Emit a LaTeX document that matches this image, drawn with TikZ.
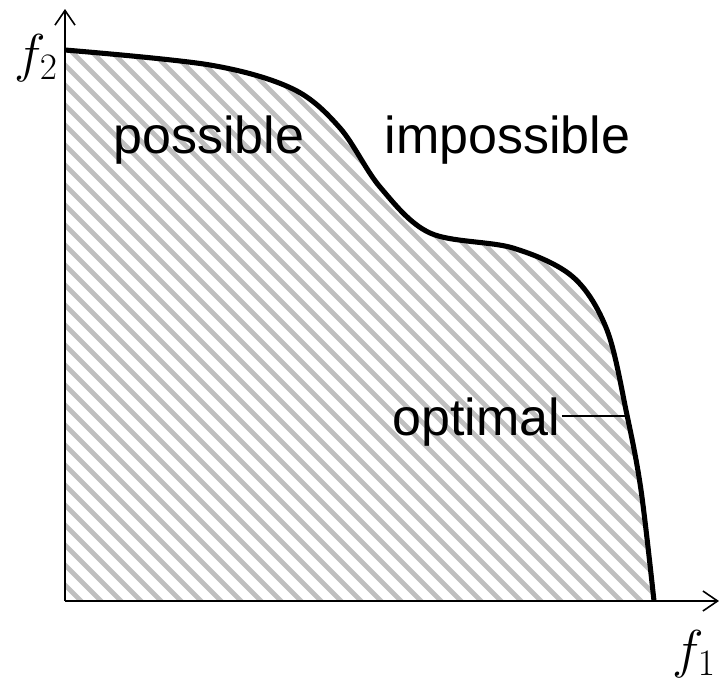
\RequirePackage{fix-cm}
\documentclass[tikz,border=0pt]{standalone}
\usepackage{fontspec}
\setsansfont{Liberation Sans}
\usepackage{tikz}
\usetikzlibrary{arrows.meta,positioning,calc}

\begin{document}
\begin{tikzpicture}[
        x=0.75pt, y=-0.75pt,
        axis/.style={line width=1.5pt, draw=black, -{Straight Barb[length=11pt,width=15pt,line width=1.2pt]}},
        front/.style={line width=3.8pt, draw=black},
        hatch/.style={line width=3.6pt, draw=black!25},
        lbl/.style={inner sep=1pt, font=\sffamily\fontsize{39}{40}\selectfont, text=black},
        axlbl/.style={inner sep=0pt, font=\fontsize{40}{42}\selectfont},
        pointer/.style={line width=1.5pt, draw=black}
    ]
        \useasboundingbox (0,0) rectangle (719,683);

        % Feasible region and its hatching
        \begin{scope}
            \clip (65,601) -- (65,50)
                -- plot[smooth, tension=0.55] coordinates {(65,50) (210,65) (293,89) (340,128) (380,187) (430,233) (513,248) (573,277) (607,330) (627,415) (641,490) (654,601)}
                -- cycle;
            \foreach \a in {-700,-680,...,720}
                \draw[hatch] (\a,0) -- ++(700,700);
        \end{scope}

        % Pareto front
        \draw[front] plot[smooth, tension=0.55] coordinates {(65,50) (210,65) (293,89) (340,128) (380,187) (430,233) (513,248) (573,277) (607,330) (627,415) (641,490) (654,601)};

        % Axes
        \coordinate (origin) at (65,601);
        \coordinate (xend) at (719,601);
        \coordinate (yend) at (65,9);
        \draw[axis] (origin) -- (xend);
        \draw[axis] (origin) -- (yend);

        % Nodes
        \node[axlbl, anchor=east] (f2) at (58,58) {$f_2$};
        \node[axlbl, anchor=east] (f1) at (716,654) {$f_1$};
        \node[lbl, anchor=base west] (poss) at (112,153) {possible};
        \node[lbl, anchor=base west] (imposs) at (383,153) {impossible};
        \node[lbl, anchor=base west] (opt) at (391,435) {optimal};
        \coordinate (optpt) at (627,416);

        % Edges
        \draw[pointer] (opt.east |- optpt) -- (optpt);
    \end{tikzpicture}
\end{document}
